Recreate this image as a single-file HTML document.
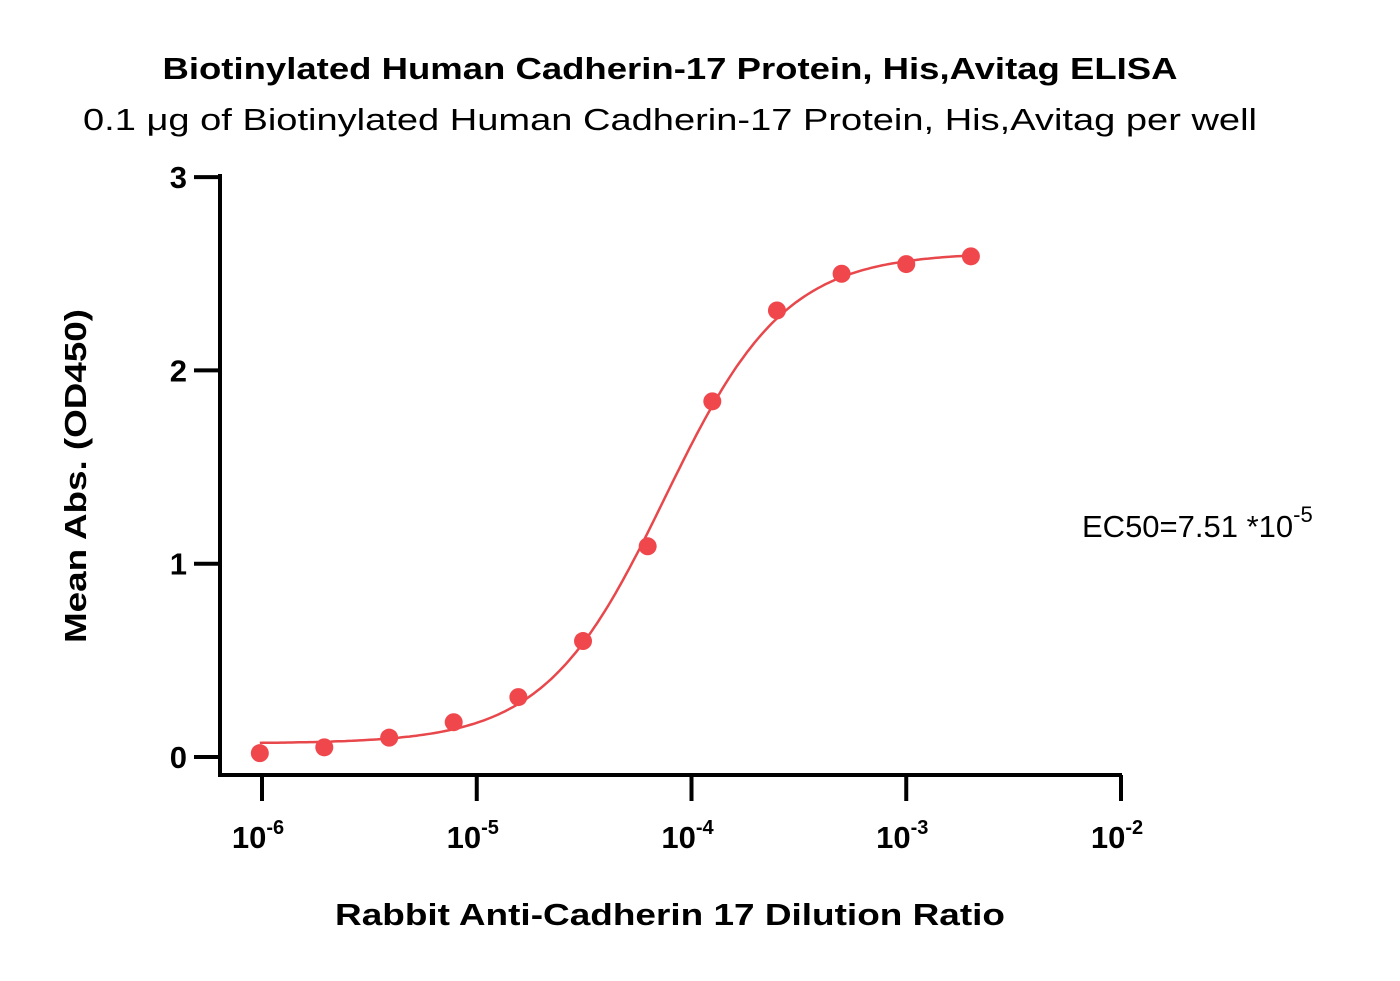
<!DOCTYPE html>
<html><head><meta charset="utf-8"><style>body{margin:0;background:#fff}svg{display:block}text{font-family:"Liberation Sans",sans-serif}</style></head>
<body>
<svg id="chart" width="1400" height="981" viewBox="0 0 1400 981" xmlns="http://www.w3.org/2000/svg">
<text x="670" y="79" text-anchor="middle" font-size="31" font-weight="bold" textLength="1015" lengthAdjust="spacingAndGlyphs">Biotinylated Human Cadherin-17 Protein, His,Avitag ELISA</text>
<text x="670" y="130" text-anchor="middle" font-size="31" textLength="1174" lengthAdjust="spacingAndGlyphs">0.1 μg of Biotinylated Human Cadherin-17 Protein, His,Avitag per well</text>
<text transform="translate(86,476) rotate(-90)" text-anchor="middle" font-size="31" font-weight="bold" textLength="334" lengthAdjust="spacingAndGlyphs">Mean Abs. (OD450)</text>
<text x="670" y="925" text-anchor="middle" font-size="31" font-weight="bold" textLength="670" lengthAdjust="spacingAndGlyphs">Rabbit Anti-Cadherin 17 Dilution Ratio</text>
<text x="1082" y="537" font-size="31">EC50=7.51 *10<tspan dy="-15" font-size="22">-5</tspan></text>
<g id="axes"></g><g id="series"></g>
</svg>
<script>
const dilutions=[9.77e-7,1.95e-6,3.91e-6,7.81e-6,1.5625e-5,3.125e-5,6.25e-5,1.25e-4,2.5e-4,5e-4,1e-3,2e-3];
const absValues=[0.02,0.05,0.10,0.18,0.31,0.60,1.09,1.84,2.31,2.50,2.55,2.59];
const yTicks=[0,1,2,3];
const xTickExps=[-6,-5,-4,-3,-2];
const fitParams=[0.07,2.61,7.51e-5,1.55]; // bottom, top, EC50, hill
const NS="http://www.w3.org/2000/svg";
const xS=v=>262+(Math.log10(v)+6)*214.75;
const yS=v=>757-v*193.3;
function mk(t,a,p){const e=document.createElementNS(NS,t);for(const k in a)e.setAttribute(k,a[k]);p.appendChild(e);return e;}
const ax=document.getElementById('axes'),se=document.getElementById('series');
let e=mk('line',{x1:220,y1:174,x2:220,y2:777,stroke:'#000','stroke-width':4},ax);


e=mk('line',{x1:218,y1:775,x2:1122,y2:775,stroke:'#000','stroke-width':4},ax);


yTicks.forEach(v=>{const y=yS(v);
e=mk('line',{x1:194,y1:y,x2:220,y2:y,stroke:'#000','stroke-width':4},ax);


e=mk('text',{x:187,y:y+11,'text-anchor':'end','font-size':31,'font-weight':'bold'},ax);e.textContent=v;

});
xTickExps.forEach(p=>{const x=xS(Math.pow(10,p));
e=mk('line',{x1:x,y1:775,x2:x,y2:801,stroke:'#000','stroke-width':4},ax);


e=mk('text',{x:x-4,y:848,'text-anchor':'middle','font-size':31,'font-weight':'bold'},ax);
e.innerHTML='10<tspan dy="-14" font-size="20">'+p+'</tspan>';

});
const [b,t,ec,h]=fitParams;let d='';
const lx0=Math.log10(dilutions[0]),lx1=Math.log10(dilutions[dilutions.length-1]);
for(let i=0;i<=200;i++){const lx=lx0+i*(lx1-lx0)/200;const x=Math.pow(10,lx);
const y=b+(t-b)/(1+Math.pow(ec/x,h));d+=(i?'L':'M')+xS(x).toFixed(1)+','+yS(y).toFixed(1);}
e=mk('path',{d:d,fill:'none',stroke:'#e8474b','stroke-width':2.5},se);


dilutions.forEach((x,i)=>{e=mk('circle',{cx:xS(x),cy:yS(absValues[i]),r:9,fill:'#f0474c'},se);

});
</script>
</body></html>
